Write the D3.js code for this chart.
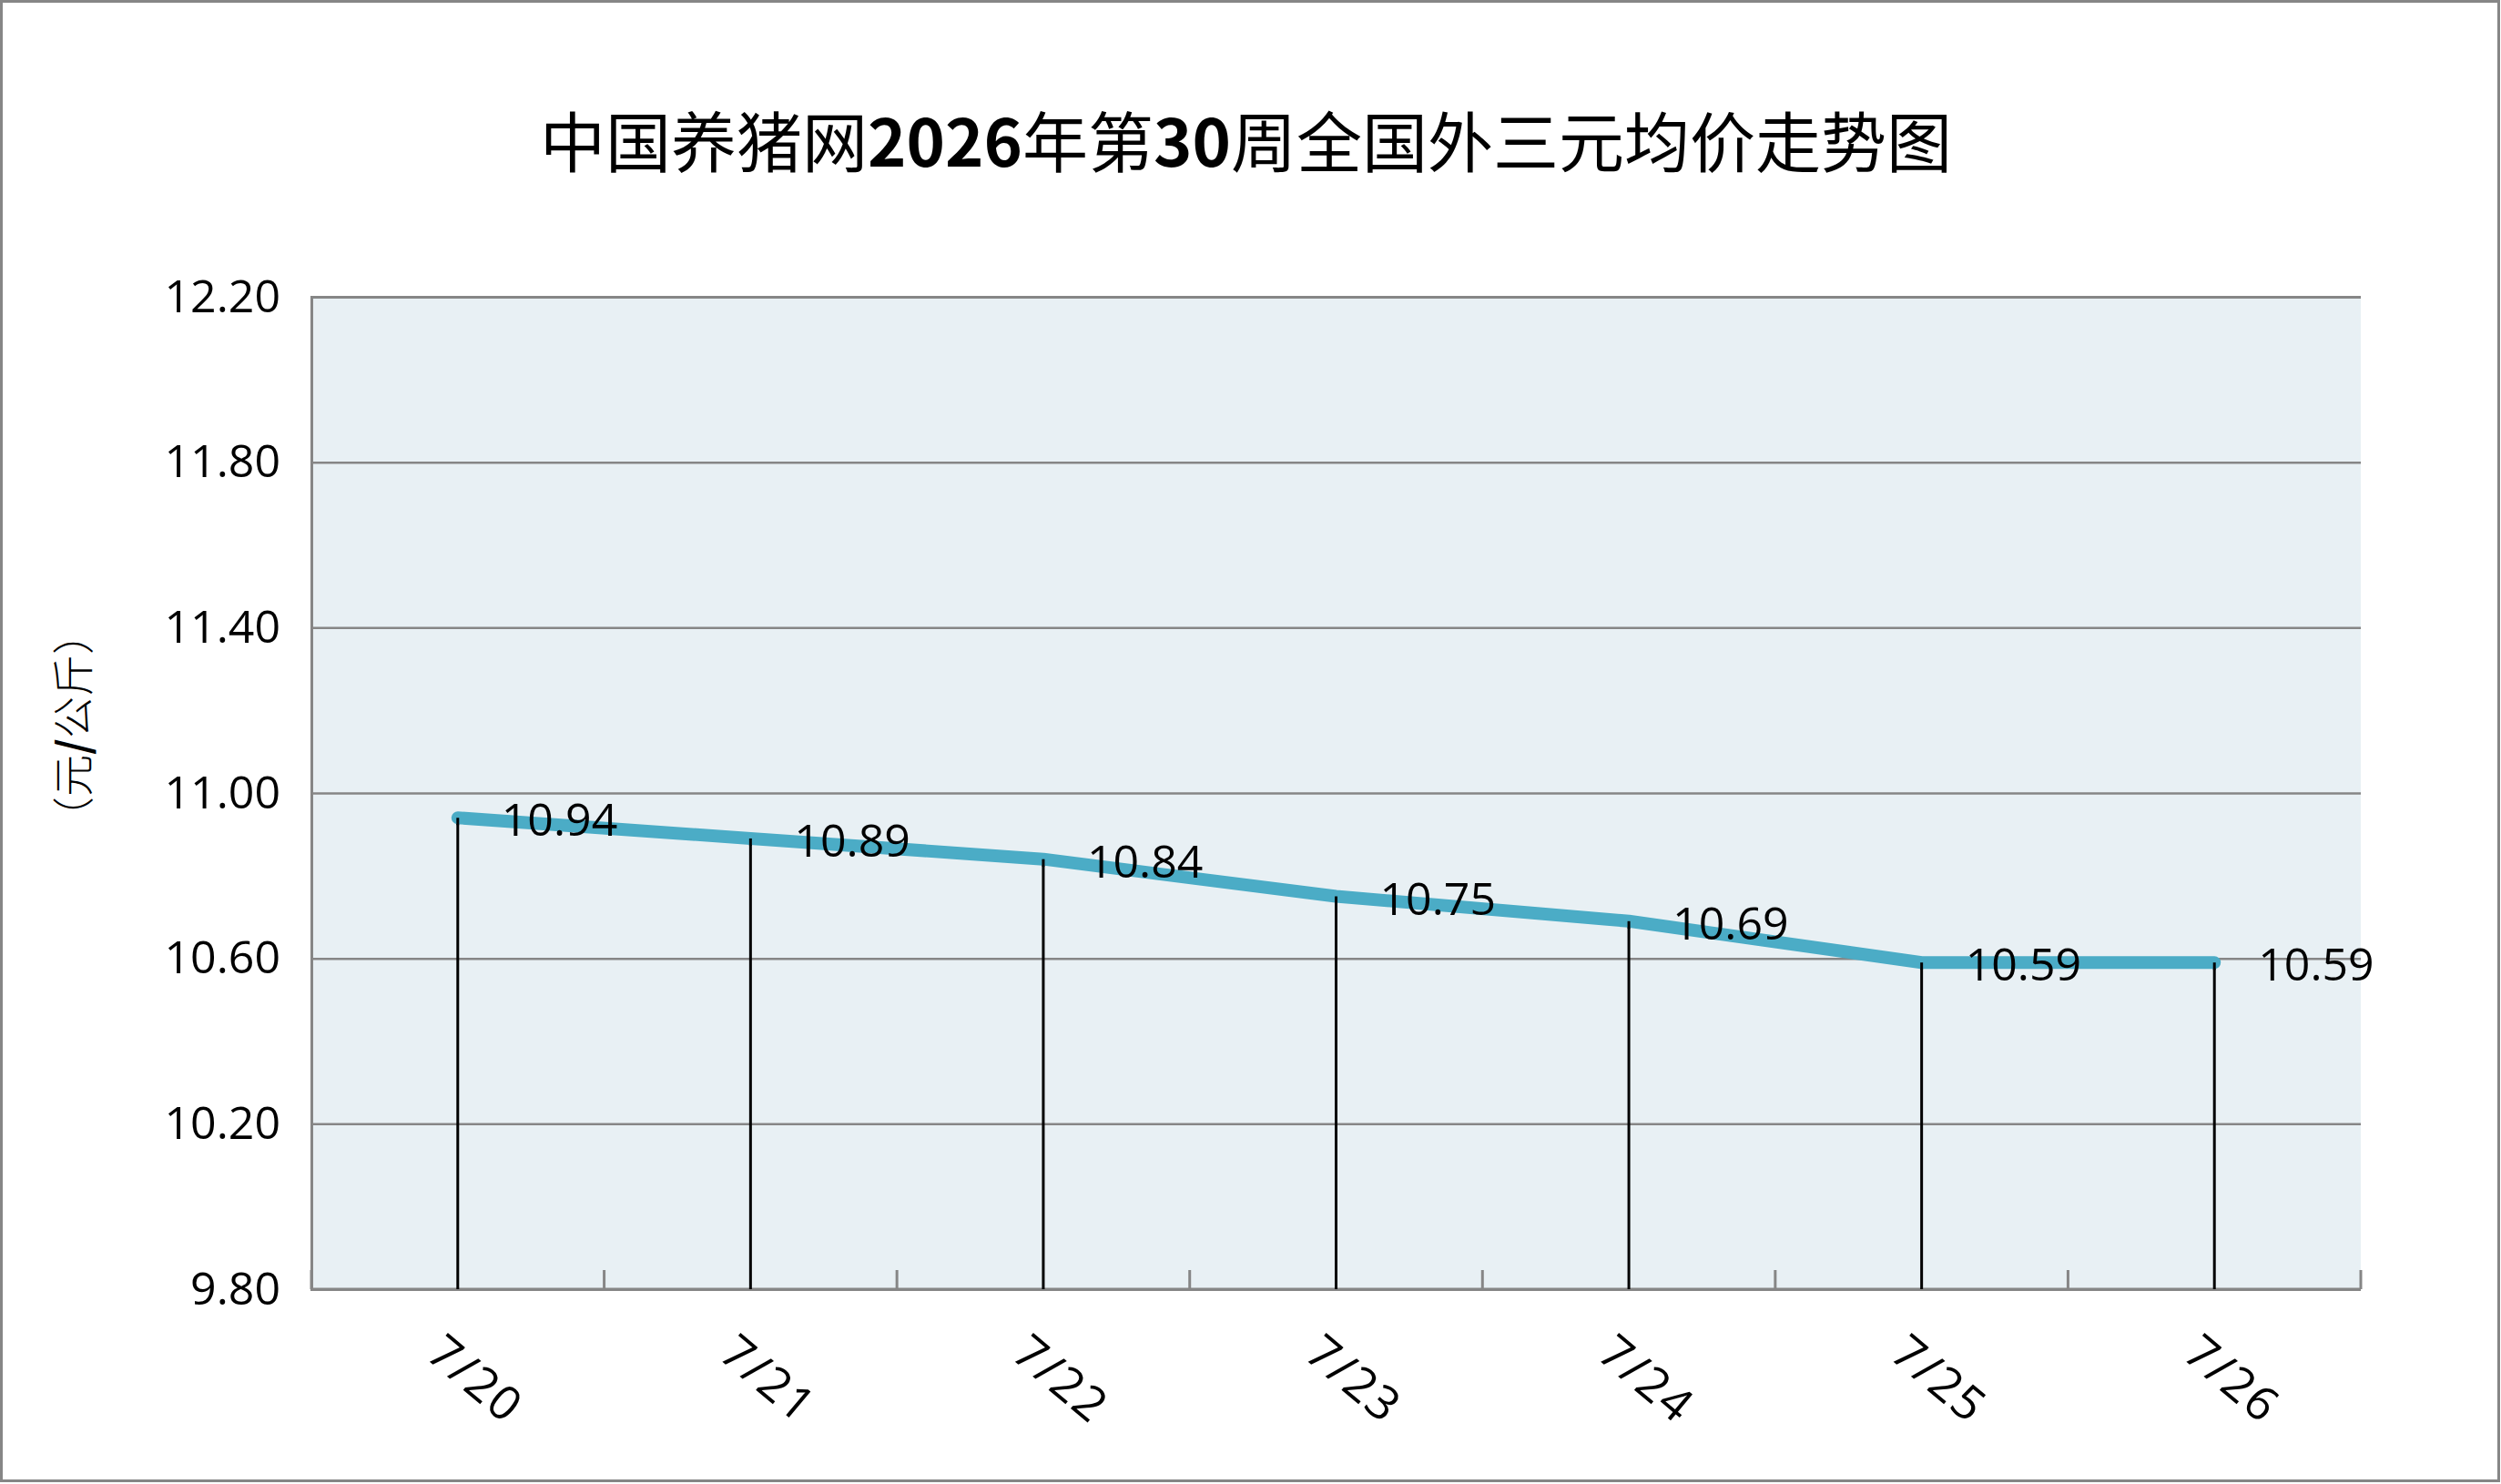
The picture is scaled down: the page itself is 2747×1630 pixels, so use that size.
<!DOCTYPE html>
<html>
<head>
<meta charset="utf-8">
<script src="https://cdn.jsdelivr.net/npm/d3@7"></script>
<style>
  html, body { margin: 0; padding: 0; background: #ffffff; }
  svg { display: block; }
</style>
</head>
<body>
<svg id="chart" width="2747" height="1630"></svg>
<script>
// chart data
const dates = ["7/20", "7/21", "7/22", "7/23", "7/24", "7/25", "7/26"];
const prices = [10.94, 10.89, 10.84, 10.75, 10.69, 10.59, 10.59];
const yTicks = [9.8, 10.2, 10.6, 11.0, 11.4, 11.8, 12.2];
const titleParts = [
	{ text: "中国养猪网", bold: false },
	{ text: "2026", bold: true },
	{ text: "年第", bold: false },
	{ text: "30", bold: true },
	{ text: "周全国外三元均价走势图", bold: false }
];
const yTitleParts = [
	{ text: "（元", bold: false },
	{ text: "/", bold: true },
	{ text: "公斤）", bold: false }
];

const W = 2747, H = 1630;
const margin = { left: 342, right: 154, top: 326, bottom: 214 };
const plotW = W - margin.left - margin.right;
const plotH = H - margin.top - margin.bottom;

const numFont = "'Open Sans', 'Noto Sans', sans-serif";
const cjkFont = "'Noto Sans CJK SC', sans-serif";

var svg = d3.select("#chart");

// outer frame
svg.append("rect")
	.attr("x", 1.5).attr("y", 1.5)
	.attr("width", W - 4).attr("height", H - 5)
	.attr("fill", "#ffffff")
	.attr("stroke", "#868686")
	.attr("stroke-width", 3);

// title
let title = svg.append("text")
	.attr("x", W / 2 - 5)
	.attr("y", 183)
	.attr("text-anchor", "middle")
	.style("font-family", cjkFont)
	.style("font-size", "72px")
	.style("fill", "#000");

title.selectAll("tspan")
	.data(titleParts)
	.enter()
	.append("tspan")
	.text(d => d.text)
	.style("font-weight", d => d.bold ? "bold" : "normal");

let g = svg.append("g")
	.attr("transform", "translate(" + margin.left + "," + margin.top + ")");

var x = d3.scaleBand()
	.domain(dates)
	.range([0, plotW]);

var y = d3.scaleLinear()
	.domain([9.8, 12.2])
	.range([plotH, 0]);

function cx(d) { return x(d) + x.bandwidth() / 2; }

// plot area
g.append("rect")
	.attr("width", plotW)
	.attr("height", plotH)
	.attr("fill", "#e8f0f4");

// y axis with gridlines
let yAxis = g.append("g")
	.call(d3.axisLeft(y)
		.tickValues(yTicks)
		.tickFormat(d3.format(".2f"))
		.tickSize(-plotW)
		.tickPadding(34));

yAxis.select(".domain")
	.attr("stroke", "#868686")
	.attr("stroke-width", 3);

yAxis.selectAll(".tick line")
	.attr("stroke", "#868686")
	.attr("stroke-width", 2.5);

yAxis.selectAll(".tick text")
	.style("font-family", numFont)
	.style("font-size", "50px")
	.style("fill", "#000");

// x axis
let xAxis = g.append("g")
	.attr("transform", "translate(0," + plotH + ")");

xAxis.append("line")
	.attr("x1", 0).attr("x2", plotW)
	.attr("stroke", "#868686")
	.attr("stroke-width", 3);

let bounds = dates.map(d => x(d)).concat([x.range()[1]]);

xAxis.selectAll(".xtick")
	.data(bounds)
	.enter()
	.append("line")
	.attr("class", "xtick")
	.attr("x1", d => d).attr("x2", d => d)
	.attr("y1", 0).attr("y2", -21)
	.attr("stroke", "#868686")
	.attr("stroke-width", 3);

xAxis.selectAll(".xlabel")
	.data(dates)
	.enter()
	.append("text")
	.attr("class", "xlabel")
	.attr("transform", d => "translate(" + (cx(d) + 20) + ",98) rotate(40)")
	.attr("text-anchor", "middle")
	.attr("dy", "0.36em")
	.text(d => d)
	.style("font-family", numFont)
	.style("font-size", "52px")
	.style("letter-spacing", "2px")
	.style("fill", "#000");

// drop lines
g.selectAll(".drop")
	.data(dates)
	.enter()
	.append("line")
	.attr("class", "drop")
	.attr("x1", d => cx(d)).attr("x2", d => cx(d))
	.attr("y1", (d, i) => y(prices[i]))
	.attr("y2", plotH)
	.attr("stroke", "#000")
	.attr("stroke-width", 3);

// price line
var line = d3.line()
	.x(d => cx(d[0]))
	.y(d => y(d[1]));

g.append("path")
	.datum(d3.zip(dates, prices))
	.attr("d", line)
	.attr("fill", "none")
	.attr("stroke", "#4bacc6")
	.attr("stroke-width", 14)
	.attr("stroke-linecap", "round")
	.attr("stroke-linejoin", "round");

// redraw the drop line tops above the price line
g.selectAll(".droptop")
	.data(dates)
	.enter()
	.append("line")
	.attr("class", "droptop")
	.attr("x1", d => cx(d)).attr("x2", d => cx(d))
	.attr("y1", (d, i) => y(prices[i]))
	.attr("y2", (d, i) => y(prices[i]) + 8)
	.attr("stroke", "#000")
	.attr("stroke-width", 3);

// data labels
g.selectAll(".value")
	.data(prices)
	.enter()
	.append("text")
	.attr("class", "value")
	.attr("x", (d, i) => cx(dates[i]) + 48)
	.attr("y", d => y(d) + 2)
	.attr("dy", "0.36em")
	.text(d => d3.format(".2f")(d))
	.style("font-family", numFont)
	.style("font-size", "50px")
	.style("fill", "#000");

// y axis title
let yTitle = svg.append("text")
	.attr("transform", "translate(80,797) rotate(-90)")
	.attr("text-anchor", "middle")
	.attr("dy", "0.36em")
	.style("font-family", cjkFont)
	.style("font-size", "46px")
	.style("font-weight", "300")
	.style("fill", "#000");

yTitle.selectAll("tspan")
	.data(yTitleParts)
	.enter()
	.append("tspan")
	.text(d => d.text)
	.style("font-weight", d => d.bold ? "bold" : "300");
</script>
</body>
</html>
